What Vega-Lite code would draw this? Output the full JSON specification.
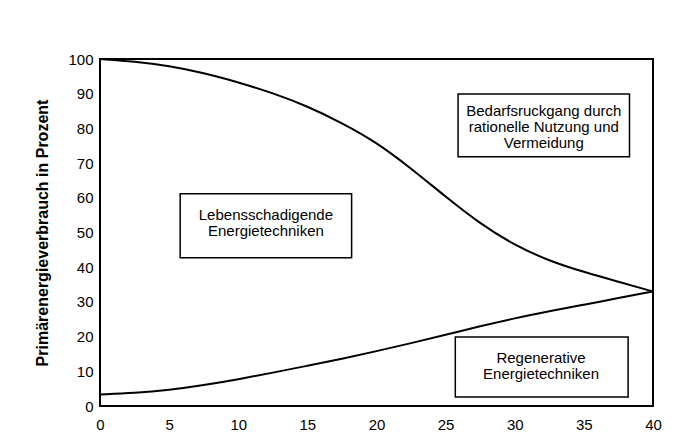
{
  "$schema": "https://vega.github.io/schema/vega-lite/v6.json",
  "width": 553,
  "height": 347,
  "autosize": {"type": "none"},
  "padding": {"left": 100, "top": 59, "right": 27, "bottom": 42},
  "background": "white",
  "config": {
    "view": {"stroke": "black", "strokeWidth": 2},
    "font": "Liberation Sans",
    "axis": {"grid": false, "ticks": false, "domain": false, "labelFont": "Liberation Sans", "labelFontSize": 15, "labelColor": "black", "titleColor": "black", "labelOverlap": false, "labelFlush": false}
  },
  "datasets": {
    "curves": [
      {"jahr": 0, "wert": 100, "kurve": "oben"},
      {"jahr": 2.5, "wert": 99.3, "kurve": "oben"},
      {"jahr": 5, "wert": 98, "kurve": "oben"},
      {"jahr": 7.5, "wert": 96, "kurve": "oben"},
      {"jahr": 10, "wert": 93.3, "kurve": "oben"},
      {"jahr": 12.5, "wert": 90.2, "kurve": "oben"},
      {"jahr": 15, "wert": 86.4, "kurve": "oben"},
      {"jahr": 17.5, "wert": 81.6, "kurve": "oben"},
      {"jahr": 20, "wert": 76, "kurve": "oben"},
      {"jahr": 22.5, "wert": 68.5, "kurve": "oben"},
      {"jahr": 25, "wert": 60.3, "kurve": "oben"},
      {"jahr": 27.5, "wert": 52.5, "kurve": "oben"},
      {"jahr": 30, "wert": 46.3, "kurve": "oben"},
      {"jahr": 32.5, "wert": 41.8, "kurve": "oben"},
      {"jahr": 35, "wert": 38.6, "kurve": "oben"},
      {"jahr": 37.5, "wert": 35.8, "kurve": "oben"},
      {"jahr": 40, "wert": 33, "kurve": "oben"},
      {"jahr": 0, "wert": 3.3, "kurve": "unten"},
      {"jahr": 2.5, "wert": 3.7, "kurve": "unten"},
      {"jahr": 5, "wert": 4.6, "kurve": "unten"},
      {"jahr": 7.5, "wert": 6, "kurve": "unten"},
      {"jahr": 10, "wert": 7.7, "kurve": "unten"},
      {"jahr": 12.5, "wert": 9.6, "kurve": "unten"},
      {"jahr": 15, "wert": 11.6, "kurve": "unten"},
      {"jahr": 17.5, "wert": 13.6, "kurve": "unten"},
      {"jahr": 20, "wert": 15.8, "kurve": "unten"},
      {"jahr": 22.5, "wert": 18.1, "kurve": "unten"},
      {"jahr": 25, "wert": 20.5, "kurve": "unten"},
      {"jahr": 27.5, "wert": 23, "kurve": "unten"},
      {"jahr": 30, "wert": 25.3, "kurve": "unten"},
      {"jahr": 32.5, "wert": 27.3, "kurve": "unten"},
      {"jahr": 35, "wert": 29.2, "kurve": "unten"},
      {"jahr": 37.5, "wert": 31.1, "kurve": "unten"},
      {"jahr": 40, "wert": 33, "kurve": "unten"}
    ],
    "boxes": [
      {"x1": 5.8, "x2": 18.2, "y1": 42.7, "y2": 61.2, "xc": 12, "yt": 57, "label": "Lebensschadigende\nEnergietechniken"},
      {"x1": 25.9, "x2": 38.3, "y1": 71.8, "y2": 89.9, "xc": 32.1, "yt": 86.9, "label": "Bedarfsruckgang durch\nrationelle Nutzung und\nVermeidung"},
      {"x1": 25.7, "x2": 38.2, "y1": 2.6, "y2": 19.9, "xc": 31.9, "yt": 15.8, "label": "Regenerative\nEnergietechniken"}
    ]
  },
  "layer": [
    {
      "data": {"name": "curves"},
      "mark": {"type": "line", "color": "black", "strokeWidth": 2, "interpolate": "basis"},
      "encoding": {
        "x": {"field": "jahr", "type": "quantitative", "scale": {"domain": [0, 40], "nice": false}, "axis": {"values": [0, 5, 10, 15, 20, 25, 30, 35, 40], "title": null, "labelPadding": 11}},
        "y": {"field": "wert", "type": "quantitative", "scale": {"domain": [0, 100], "nice": false}, "axis": {"values": [0, 10, 20, 30, 40, 50, 60, 70, 80, 90, 100], "title": "Primärenergieverbrauch in Prozent", "titleFontSize": 16, "titleFontWeight": "bold", "titleFont": "Liberation Sans", "titlePadding": 17, "labelPadding": 7}},
        "detail": {"field": "kurve"}
      }
    },
    {
      "data": {"name": "boxes"},
      "mark": {"type": "rect", "fill": "white", "stroke": "black", "strokeWidth": 1.5},
      "encoding": {
        "x": {"field": "x1", "type": "quantitative", "scale": {"domain": [0, 40], "nice": false}, "axis": {"values": [0, 5, 10, 15, 20, 25, 30, 35, 40], "title": null, "labelPadding": 11}},
        "x2": {"field": "x2"},
        "y": {"field": "y1", "type": "quantitative", "scale": {"domain": [0, 100], "nice": false}, "axis": {"values": [0, 10, 20, 30, 40, 50, 60, 70, 80, 90, 100], "title": "Primärenergieverbrauch in Prozent", "titleFontSize": 16, "titleFontWeight": "bold", "titleFont": "Liberation Sans", "titlePadding": 17, "labelPadding": 7}},
        "y2": {"field": "y2"}
      }
    },
    {
      "data": {"name": "boxes"},
      "transform": [{"calculate": "split(datum.label, '\\n')", "as": "lines"}],
      "mark": {"type": "text", "fontSize": 15, "lineHeight": 16, "align": "center", "baseline": "top", "color": "black", "font": "Liberation Sans"},
      "encoding": {
        "x": {"field": "xc", "type": "quantitative", "scale": {"domain": [0, 40], "nice": false}, "axis": {"values": [0, 5, 10, 15, 20, 25, 30, 35, 40], "title": null, "labelPadding": 11}},
        "y": {"field": "yt", "type": "quantitative", "scale": {"domain": [0, 100], "nice": false}, "axis": {"values": [0, 10, 20, 30, 40, 50, 60, 70, 80, 90, 100], "title": "Primärenergieverbrauch in Prozent", "titleFontSize": 16, "titleFontWeight": "bold", "titleFont": "Liberation Sans", "titlePadding": 17, "labelPadding": 7}},
        "text": {"field": "lines"}
      }
    }
  ]
}
